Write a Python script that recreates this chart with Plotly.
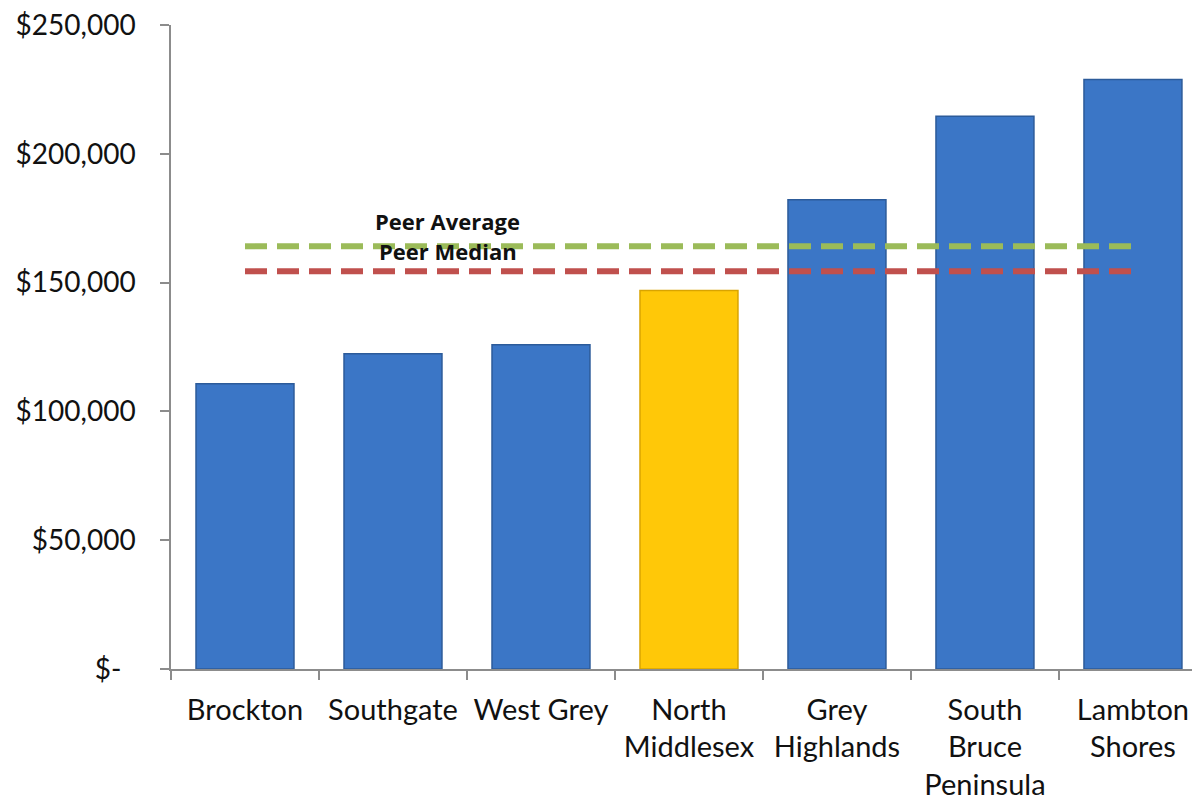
import plotly.graph_objects as go

categories = ["Brockton", "Southgate", "West Grey", "North Middlesex",
              "Grey Highlands", "South Bruce Peninsula", "Lambton Shores"]
category_labels = ["Brockton", "Southgate", "West Grey", "North<br>Middlesex",
                   "Grey<br>Highlands", "South<br>Bruce<br>Peninsula", "Lambton<br>Shores"]
values = [110700, 122400, 125900, 146900, 182200, 214600, 228800]
highlight = "North Middlesex"
peer_average = 164100
peer_median = 154400
y_tickvals = [0, 50000, 100000, 150000, 200000, 250000]
y_ticktext = ["$-\u00a0\u00a0", "$50,000", "$100,000", "$150,000", "$200,000", "$250,000"]

BLUE = "#3b76c6"
BLUE_EDGE = "#2c5b9a"
GOLD = "#ffc808"
GOLD_EDGE = "#d9a400"

bar_colors = [GOLD if c == highlight else BLUE for c in categories]
edge_colors = [GOLD_EDGE if c == highlight else BLUE_EDGE for c in categories]

fig = go.Figure()
fig.add_trace(go.Bar(
    x=categories, y=values,
    marker=dict(color=bar_colors, line=dict(color=edge_colors, width=1.5)),
    showlegend=False, hoverinfo="x+y",
))
fig.add_trace(go.Scatter(
    x=[categories[0], categories[-1]], y=[peer_average, peer_average],
    mode="lines", line=dict(color="#9bbb59", width=6, dash="22px,10px"),
    showlegend=False,
))
fig.add_trace(go.Scatter(
    x=[categories[0], categories[-1]], y=[peer_median, peer_median],
    mode="lines", line=dict(color="#c0504d", width=6, dash="22px,10px"),
    showlegend=False,
))

fig.add_annotation(x=1.37, y=peer_average, xref="x", yref="y", text="<b>Peer Average</b>",
                   showarrow=False, yshift=25, font=dict(family="Open Sans", size=22, color="#111"))
fig.add_annotation(x=1.37, y=peer_median, xref="x", yref="y", text="<b>Peer Median</b>",
                   showarrow=False, yshift=20, font=dict(family="Open Sans", size=22, color="#111"))

fig.update_layout(
    width=1192, height=801,
    margin=dict(l=171, r=0, t=25, b=132),
    paper_bgcolor="white", plot_bgcolor="white",
    bargap=0.338,
    font=dict(family="Lato", size=28, color="#111"),
    xaxis=dict(
        type="category", range=[-0.5, 6.399],
        tickvals=categories, ticktext=category_labels,
        tickfont=dict(family="Lato", size=29, color="#111"),
        showline=True, linecolor="#8c8c8c", linewidth=1.5,
        ticks="outside", tickson="boundaries", ticklen=9, tickcolor="#8c8c8c", tickwidth=1.5,
        showgrid=False, ticklabelstandoff=14,
    ),
    yaxis=dict(
        range=[0, 250000], tickvals=y_tickvals, ticktext=y_ticktext,
        tickfont=dict(family="Lato", size=28, color="#111"),
        showline=True, linecolor="#8c8c8c", linewidth=1.5,
        ticks="outside", ticklen=9, tickcolor="#8c8c8c", tickwidth=1.5,
        showgrid=False, zeroline=False, ticklabelstandoff=19,
    ),
)

fig.write_html("out.html")
